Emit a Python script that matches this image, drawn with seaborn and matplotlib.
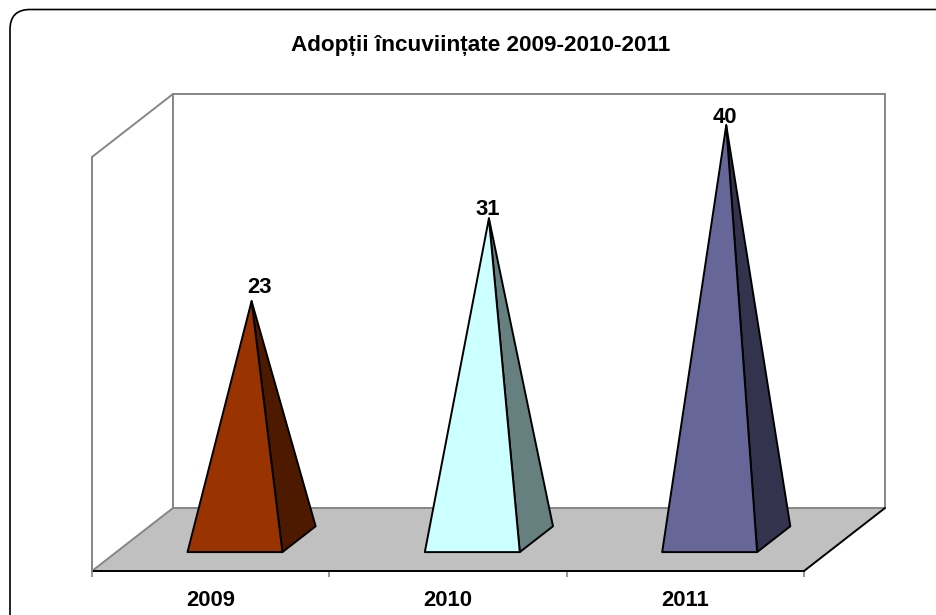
import matplotlib
matplotlib.use('Agg')
import matplotlib.pyplot as plt
import pandas as pd
import seaborn as sns
from matplotlib.patches import FancyBboxPatch, Polygon

sns.set_style("white")
plt.rcParams['font.family'] = ['Liberation Sans', 'DejaVu Sans']

years = ['2009', '2010', '2011']
values = [23, 31, 40]
front_colors = ['#993300', '#CCFFFF', '#666699']
side_colors = ['#4D1A00', '#668080', '#33334D']

# label nudges in points, the labels do not sit straight above the tips
label_dx = [5.8, -0.7, -1.0]
label_dy = [5.8, 2.6, 1.4]

title = 'Adopții încuviințate 2009-2010-2011'

# 3D look: one unit of depth moves this far in data units
DEPTH_X = 81 / 237.3
DEPTH_Y = 63 / 10.35
BAR_DEPTH_START = 0.30
BAR_DEPTH = 0.41


def proj(x, y, depth):
    return (x + depth * DEPTH_X, y + depth * DEPTH_Y)


fig = plt.figure(figsize=(9.36, 6.15), dpi=100)

# rounded frame, it runs off the right and bottom of the picture
bg = fig.add_axes([0, 0, 1, 1])
bg.set_xlim(0, 936)
bg.set_ylim(615, 0)
bg.axis('off')
bg.add_patch(FancyBboxPatch((30, 29.5), 926, 606, boxstyle='round,pad=20,rounding_size=20',
                            fc='white', ec='black', lw=1.2, clip_on=True))
bg.text(480.5, 45, title, ha='center', va='center', fontsize=16.2, fontweight='bold', color='black')

ax = fig.add_axes([92 / 936, 44 / 615, 712 / 936, 414 / 615])
ax.patch.set_alpha(0)
df = pd.DataFrame({'year': years, 'adoptions': values})
sns.barplot(data=df, x='year', y='adoptions', hue='year', palette=front_colors,
            legend=False, width=0.4, ax=ax)
bars = sorted(ax.patches, key=lambda p: p.get_x())
ax.set_xlim(-0.5, 2.5)
ax.set_ylim(0, 40)
ax.set_xlabel('')
ax.set_ylabel('')

# walls and floor
ymax = 40
xl, xr = -0.5, 2.5
floor = [proj(xl, 0, 0), proj(xr, 0, 0), proj(xr, 0, 1), proj(xl, 0, 1)]
ax.add_patch(Polygon(floor, fc='#C0C0C0', ec='none', zorder=0.5, clip_on=False))
grey = '#868686'
for a, b, col in [
    (proj(xl, ymax, 0), proj(xl, ymax, 1), grey),
    (proj(xl, ymax, 1), proj(xr, ymax, 1), grey),
    (proj(xr, ymax, 1), proj(xr, 0, 1), grey),
    (proj(xl, ymax, 1), proj(xl, 0, 1), grey),
    (proj(xl, 0, 1), proj(xr, 0, 1), grey),
    (proj(xl, 0, 0), proj(xl, 0, 1), grey),
    (proj(xr, 0, 0), proj(xr, 0, 1), 'black'),
]:
    ax.plot([a[0], b[0]], [a[1], b[1]], color=col, lw=1.4, zorder=0.6, clip_on=False)

# swap each seaborn bar for a pyramid with the same base and height
for i, bar in enumerate(bars):
    x0 = bar.get_x()
    x1 = x0 + bar.get_width()
    h = bar.get_height()
    bar.set_visible(False)
    d0 = BAR_DEPTH_START
    d1 = d0 + BAR_DEPTH
    apex = proj((x0 + x1) / 2, h, (d0 + d1) / 2)
    fl = proj(x0, 0, d0)
    fr = proj(x1, 0, d0)
    br = proj(x1, 0, d1)
    ax.add_patch(Polygon([fr, br, apex], fc=side_colors[i], ec='black', lw=1.4,
                         joinstyle='round', zorder=3, clip_on=False))
    ax.add_patch(Polygon([fl, fr, apex], fc=front_colors[i], ec='black', lw=1.4,
                         joinstyle='round', zorder=4, clip_on=False))
    ax.annotate(str(values[i]), xy=apex, xytext=(label_dx[i], label_dy[i]),
                textcoords='offset points', ha='center', va='baseline',
                fontsize=15.8, fontweight='bold', color='black', zorder=5,
                annotation_clip=False)

sns.despine(ax=ax, top=True, right=True, left=False, bottom=False)
ax.spines['left'].set_color(grey)
ax.spines['left'].set_linewidth(1.4)
ax.spines['bottom'].set_color('black')
ax.spines['bottom'].set_linewidth(1.4)
ax.spines['bottom'].set_zorder(2)

ax.set_yticks([])
ax.set_xticks([0, 1, 2])
ax.set_xticklabels(years, fontsize=15.8, fontweight='bold', color='black')
ax.set_xticks([-0.5, 0.5, 1.5, 2.5], minor=True)
ax.tick_params(axis='x', which='major', length=0, pad=13.5)
ax.tick_params(axis='x', which='minor', bottom=True, length=4.5, width=1.2, color=grey)

fig.savefig('out.png', dpi=100)
